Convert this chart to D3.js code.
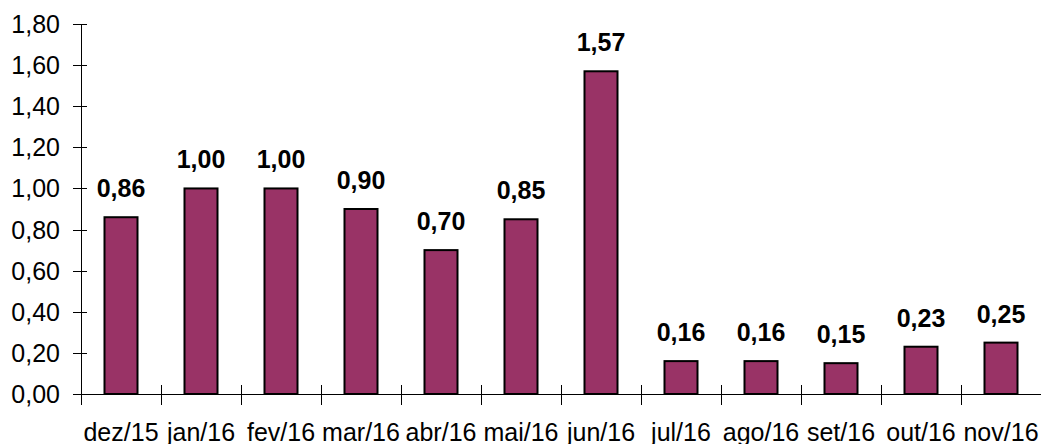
<!DOCTYPE html>
<html>
<head>
<meta charset="utf-8">
<script src="https://cdn.jsdelivr.net/npm/d3@7"></script>
<style>
  html, body { margin: 0; padding: 0; background: #fff; }
  svg { display: block; }
  .lbl { font-family: "Liberation Sans Narrow", "Arial Narrow", "Liberation Sans", sans-serif; }
</style>
</head>
<body>
<svg id="chart" width="1041" height="444"></svg>
<script>
const categories = ["dez/15", "jan/16", "fev/16", "mar/16", "abr/16", "mai/16", "jun/16", "jul/16", "ago/16", "set/16", "out/16", "nov/16"];
const values = [0.86, 1.00, 1.00, 0.90, 0.70, 0.85, 1.57, 0.16, 0.16, 0.15, 0.23, 0.25];
const yTicks = [0, 0.2, 0.4, 0.6, 0.8, 1.0, 1.2, 1.4, 1.6, 1.8];

const fmt = v => v.toFixed(2).replace(".", ",");

const svg = d3.select("#chart");
const plot = { left: 81, right: 1041, top: 24, bottom: 394 };

const x = d3.scaleBand().domain(categories).range([plot.left, plot.right]).paddingInner(0).paddingOuter(0);
const y = d3.scaleLinear().domain([0, 1.8]).range([plot.bottom, plot.top]);
const barW = 33;

// y axis
svg.append("line").attr("x1", plot.left + 0.5).attr("x2", plot.left + 0.5)
  .attr("y1", plot.top).attr("y2", plot.bottom + 11)
  .attr("stroke", "#000").attr("stroke-width", 1);
svg.selectAll(".ytick").data(yTicks).join("line")
  .attr("x1", plot.left - 8).attr("x2", plot.left + 6)
  .attr("y1", d => Math.round(y(d)) + 0.5).attr("y2", d => Math.round(y(d)) + 0.5)
  .attr("stroke", "#000");
svg.selectAll(".ylab").data(yTicks).join("text")
  .attr("class", "lbl")
  .attr("x", 60).attr("y", d => y(d) + 9)
  .attr("text-anchor", "end")
  .attr("font-size", 25)
  .text(d => fmt(d));

// x axis
svg.append("line").attr("x1", plot.left).attr("x2", plot.right)
  .attr("y1", plot.bottom + 0.5).attr("y2", plot.bottom + 0.5)
  .attr("stroke", "#000");
const bounds = categories.map(c => x(c)).concat([plot.right]);
svg.selectAll(".xtick").data(bounds.slice(1, -1)).join("line")
  .attr("x1", d => d + 0.5).attr("x2", d => d + 0.5)
  .attr("y1", plot.bottom - 9).attr("y2", plot.bottom + 11)
  .attr("stroke", "#000");

// bars
svg.selectAll(".bar").data(values).join("rect")
  .attr("x", (d, i) => x(categories[i]) + x.bandwidth() / 2 - barW / 2)
  .attr("y", d => y(d))
  .attr("width", barW)
  .attr("height", d => plot.bottom - y(d))
  .attr("fill", "#993366")
  .attr("stroke", "#000")
  .attr("stroke-width", 2);

// value labels
svg.selectAll(".val").data(values).join("text")
  .attr("class", "lbl")
  .attr("x", (d, i) => x(categories[i]) + x.bandwidth() / 2)
  .attr("y", d => y(d) - 20)
  .attr("text-anchor", "middle")
  .attr("font-size", 25)
  .attr("font-weight", "bold")
  .text(d => fmt(d));

// category labels
svg.selectAll(".cat").data(categories).join("text")
  .attr("class", "lbl")
  .attr("x", c => x(c) + x.bandwidth() / 2)
  .attr("y", 441)
  .attr("text-anchor", "middle")
  .attr("font-size", 25)
  .text(c => c);
</script>
</body>
</html>
